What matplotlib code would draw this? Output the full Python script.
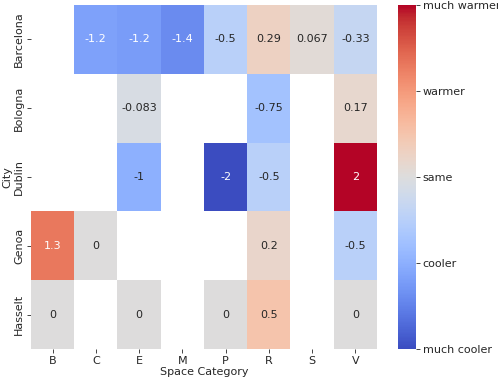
import numpy as np
import pandas as pd
import matplotlib
matplotlib.use("Agg")
import matplotlib.pyplot as plt
import seaborn as sns

sns.set_theme(style="white")
plt.rcParams['font.family'] = ['DejaVu Sans']

cities = ["Barcelona", "Bologna", "Dublin", "Genoa", "Hasselt"]
categories = ["B", "C", "E", "M", "P", "R", "S", "V"]
nan = np.nan
barcelona = [nan, -1.17, -1.22, -1.4, -0.5, 0.29, 0.067, -0.33]
bologna = [nan, nan, -0.083, nan, nan, -0.75, nan, 0.17]
dublin = [nan, nan, -1, nan, -2, -0.5, nan, 2]
genoa = [1.3, 0, nan, nan, nan, 0.2, nan, -0.5]
hasselt = [0, nan, 0, nan, 0, 0.5, nan, 0]
cbar_ticks = [-2, -1, 0, 1, 2]
cbar_labels = ["much cooler", "cooler", "same", "warmer", "much warmer"]

df = pd.DataFrame([barcelona, bologna, dublin, genoa, hasselt],
                  index=pd.Index(cities, name="City"),
                  columns=pd.Index(categories, name="Space Category"))

fs = 8
fig = plt.figure(figsize=(4.98, 3.81), dpi=100)
ax = fig.add_axes([0.062, 0.084, 0.695, 0.903])
cax = fig.add_axes([0.799, 0.084, 0.036, 0.903])
sns.heatmap(df, ax=ax, cbar_ax=cax, cmap="coolwarm", vmin=-2, vmax=2,
            annot=True, fmt=".2g", annot_kws={"fontsize": fs})
ax.tick_params(axis="both", which="both", length=3, width=0.6, labelsize=fs,
               left=True, bottom=True, pad=2)
ax.set_yticklabels(cities, rotation=90, va="center")
ax.set_xlabel("Space Category", fontsize=fs, labelpad=1)
ax.set_ylabel("City", fontsize=fs, labelpad=1)
cax.set_yticks(cbar_ticks)
cax.set_yticklabels(cbar_labels)
cax.tick_params(labelsize=fs, length=3, width=0.6, right=True, pad=2)
for s in cax.spines.values():
    s.set_visible(False)
fig.savefig("out.png", dpi=100)
